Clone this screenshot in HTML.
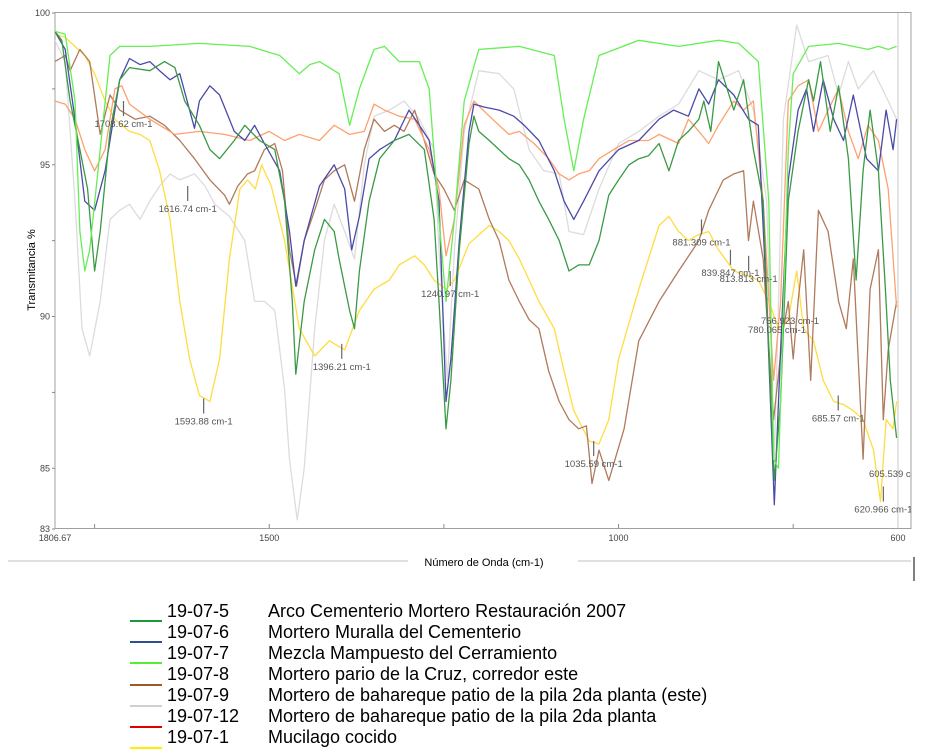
<!DOCTYPE html>
<html><head><meta charset="utf-8"><style>
html,body{margin:0;padding:0;background:#fff;width:930px;height:753px;overflow:hidden}
svg text{font-family:"Liberation Sans",Arial,sans-serif}
.leg{position:absolute;left:0;top:0;font-family:"Liberation Sans",Arial,sans-serif;font-size:18px;color:#000}
</style></head><body>
<svg id="chart" width="930" height="753" style="position:absolute;left:0;top:0">
<defs><clipPath id="pc"><rect x="55" y="13" width="843" height="516"/></clipPath>
<clipPath id="fc"><rect x="0" y="0" width="911" height="600"/></clipPath></defs>
<rect x="55" y="12.5" width="856" height="516" fill="none" stroke="#a0a0a0" stroke-width="1"/>
<line x1="898" y1="13" x2="898" y2="528" stroke="#c8c8c8"/>
<g id="axes"></g>
<g id="series" clip-path="url(#pc)"></g>
<g id="annots" clip-path="url(#fc)"></g>
<line x1="8" y1="561" x2="911" y2="561" stroke="#e0e0e0" stroke-width="2"/>
<rect x="408" y="552" width="170" height="18" fill="#fff"/>
<text x="484" y="566" font-size="11" text-anchor="middle" fill="#000">Número de Onda (cm-1)</text>
<line x1="914" y1="557" x2="914" y2="581" stroke="#000" stroke-width="1"/>
<text transform="translate(35,270) rotate(-90)" font-size="11" text-anchor="middle" fill="#000">Transmitancia %</text>
</svg>
<div class="leg" id="legend"></div>
<script>
const xTicks=[1750,1500,1250,1000,750];
const xLabels=[[1806.67,"1806.67"],[1500,"1500"],[1000,"1000"],[600,"600"]];
const yTicks=[100,97.5,95,92.5,90,87.5,85,83];
const yLabels=[100,95,90,85,83];
const s5=[[1807,99.4],[1797,99.1],[1785,97.1],[1771,95.5],[1760,94.2],[1750,91.5],[1742,92.8],[1728,96.1],[1714,97.8],[1700,98.2],[1671,98.1],[1650,98.4],[1635,98.2],[1621,97.1],[1600,96.3],[1585,95.5],[1571,95.2],[1550,95.8],[1535,96.3],[1514,95.8],[1492,95.5],[1478,93.8],[1467,90.5],[1462,88.1],[1450,90.5],[1435,92.2],[1421,93.2],[1407,92.8],[1400,91.9],[1385,90.2],[1378,89.6],[1371,91.5],[1357,93.8],[1342,95.2],[1321,95.8],[1300,96.0],[1278,95.5],[1264,93.2],[1257,90.5],[1247,86.3],[1240,87.9],[1228,92.2],[1214,95.7],[1207,96.6],[1200,96.1],[1185,95.8],[1171,95.5],[1157,95.2],[1142,95.0],[1128,94.5],[1114,93.8],[1100,93.2],[1085,92.5],[1071,91.5],[1057,91.7],[1042,91.7],[1028,92.5],[1014,94.0],[1000,94.5],[985,95.0],[971,95.2],[957,95.3],[942,95.7],[928,94.8],[914,95.8],[900,96.1],[885,96.5],[878,97.1],[868,96.1],[857,98.4],[835,96.8],[821,97.8],[807,95.5],[793,93.8],[785,88.9],[777,84.6],[768,87.2],[757,93.8],[743,96.1],[728,97.8],[721,97.1],[711,98.4],[697,96.1],[685,97.6],[671,95.2],[660,91.2],[650,94.8],[640,96.8],[628,94.8],[618,90.9],[611,87.9],[602,86.0]];
const s6=[[1807,99.4],[1792,98.8],[1778,96.5],[1764,93.8],[1750,93.5],[1735,94.8],[1721,96.8],[1714,97.8],[1700,98.5],[1685,98.3],[1671,98.4],[1657,98.1],[1642,97.8],[1628,98.0],[1607,96.2],[1600,97.1],[1585,97.6],[1571,97.3],[1550,96.1],[1535,95.8],[1521,96.3],[1507,95.7],[1485,94.8],[1471,92.8],[1462,91.0],[1450,92.5],[1428,94.3],[1407,95.0],[1392,94.2],[1382,92.2],[1371,93.3],[1357,95.2],[1342,95.5],[1321,95.8],[1300,96.8],[1285,96.3],[1271,95.8],[1257,93.8],[1247,87.2],[1240,88.6],[1228,92.5],[1214,96.1],[1207,97.0],[1192,96.9],[1171,96.8],[1150,96.6],[1135,96.3],[1114,95.8],[1092,94.8],[1078,93.8],[1064,93.2],[1050,93.8],[1028,94.8],[1000,95.5],[971,95.8],[942,96.5],[921,96.8],[900,96.6],[885,97.5],[871,97.0],[857,97.8],[835,97.3],[814,96.5],[800,96.3],[788,90.5],[777,83.8],[768,88.9],[757,94.5],[743,96.8],[731,97.5],[721,96.1],[707,97.8],[692,96.5],[678,95.8],[664,97.3],[645,95.2],[628,94.8],[617,96.8],[607,95.5],[602,96.5]];
const s7=[[1807,99.4],[1792,99.3],[1778,97.1],[1771,92.8],[1764,91.5],[1757,92.2],[1742,95.5],[1728,98.6],[1714,98.9],[1671,98.9],[1600,99.0],[1528,98.9],[1485,98.6],[1457,98.0],[1442,98.3],[1428,98.4],[1400,98.0],[1385,96.3],[1371,97.5],[1350,98.8],[1335,98.9],[1314,98.4],[1300,98.4],[1285,98.4],[1271,97.5],[1257,93.2],[1247,90.5],[1235,93.2],[1221,97.1],[1200,98.8],[1142,98.9],[1092,98.6],[1078,96.5],[1064,94.8],[1050,96.5],[1028,98.6],[971,99.1],[914,98.9],[857,99.1],[828,99.0],[800,98.4],[785,93.8],[778,85.3],[771,85.0],[757,95.5],[750,98.0],[728,98.9],[685,99.0],[643,98.8],[628,98.9],[614,98.8],[602,98.9]];
const s8=[[1807,98.4],[1792,98.6],[1785,98.1],[1771,98.8],[1757,98.4],[1742,96.0],[1728,97.3],[1714,96.8],[1692,96.5],[1671,96.6],[1650,96.3],[1628,95.8],[1607,95.2],[1585,94.5],[1564,94.0],[1557,93.7],[1545,94.3],[1531,94.7],[1521,94.8],[1507,95.5],[1492,95.7],[1481,94.8],[1471,92.2],[1461,91.0],[1450,92.5],[1435,93.5],[1421,94.5],[1407,94.8],[1392,95.0],[1378,93.8],[1364,95.5],[1350,96.5],[1335,96.1],[1321,96.3],[1307,96.1],[1292,96.8],[1278,95.8],[1264,94.7],[1250,94.2],[1235,93.5],[1221,94.5],[1200,94.2],[1185,93.2],[1171,92.5],[1157,91.2],[1142,90.5],[1128,89.9],[1114,89.6],[1100,88.2],[1085,87.2],[1071,86.6],[1057,86.3],[1046,86.4],[1038,84.5],[1028,85.6],[1014,84.6],[992,86.3],[971,89.2],[942,90.5],[914,91.5],[885,92.5],[871,93.5],[850,94.5],[835,94.7],[821,94.8],[814,92.5],[807,93.8],[793,91.9],[778,86.6],[764,89.6],[757,90.5],[750,88.6],[743,90.5],[735,92.2],[725,87.9],[714,93.5],[700,92.8],[685,90.5],[674,89.6],[664,91.9],[650,85.3],[640,90.9],[628,92.2],[621,86.6],[614,88.9],[602,90.5]];
const s9=[[1807,99.1],[1792,98.4],[1778,93.8],[1768,89.6],[1757,88.7],[1742,90.5],[1728,93.2],[1714,93.5],[1700,93.7],[1685,93.2],[1671,93.8],[1657,94.3],[1642,94.7],[1628,94.5],[1607,94.7],[1592,94.3],[1578,93.7],[1557,93.3],[1535,92.5],[1521,90.5],[1507,90.5],[1492,90.2],[1478,87.6],[1471,85.3],[1460,83.3],[1450,85.0],[1435,89.6],[1421,92.5],[1407,93.7],[1392,92.8],[1378,91.9],[1364,95.0],[1350,96.6],[1328,96.8],[1307,97.1],[1285,96.5],[1264,95.5],[1257,92.2],[1245,87.9],[1235,92.2],[1221,96.1],[1200,98.1],[1171,98.0],[1150,97.5],[1128,95.5],[1107,94.8],[1085,94.7],[1071,92.8],[1050,92.7],[1028,94.2],[1000,95.7],[971,96.1],[942,96.6],[914,97.0],[885,98.1],[857,97.8],[828,98.1],[807,96.8],[788,93.8],[777,85.3],[764,96.5],[745,99.6],[728,98.4],[700,98.6],[685,97.3],[671,98.4],[657,97.5],[635,98.1],[614,97.1],[602,96.5]];
const s12=[[1807,97.1],[1792,97.0],[1778,96.5],[1764,95.5],[1750,94.8],[1735,95.5],[1721,97.5],[1711,97.6],[1700,97.0],[1671,96.5],[1635,96.0],[1600,96.1],[1564,96.0],[1528,95.8],[1500,96.1],[1478,95.8],[1457,96.0],[1428,95.8],[1407,96.3],[1385,96.0],[1364,96.1],[1350,97.0],[1335,96.8],[1314,96.6],[1292,96.5],[1271,95.5],[1257,94.2],[1247,92.0],[1235,93.2],[1221,96.3],[1207,97.1],[1185,96.6],[1157,96.0],[1142,96.1],[1121,95.7],[1100,95.2],[1085,94.7],[1071,94.5],[1057,94.7],[1042,94.8],[1028,95.2],[1007,95.5],[985,95.8],[957,95.8],[942,96.0],[914,95.7],[900,96.5],[885,96.1],[871,95.7],[857,96.3],[835,97.1],[821,96.8],[807,97.1],[793,93.8],[778,87.9],[768,90.5],[757,97.1],[743,97.6],[728,97.8],[714,96.1],[700,96.8],[685,97.5],[671,96.1],[657,95.2],[643,96.3],[628,95.8],[614,94.2],[602,90.3]];
const s1=[[1807,99.3],[1792,99.2],[1778,98.9],[1764,98.6],[1750,98.0],[1735,97.1],[1721,96.5],[1700,96.1],[1685,96.0],[1671,95.8],[1657,94.8],[1642,93.2],[1628,90.5],[1614,88.6],[1600,87.4],[1585,87.2],[1571,88.6],[1557,91.9],[1542,94.2],[1531,94.5],[1520,94.2],[1511,95.0],[1497,94.3],[1478,92.5],[1457,89.6],[1435,88.7],[1414,89.2],[1392,88.9],[1371,90.2],[1350,90.9],[1328,91.2],[1314,91.7],[1292,92.0],[1278,91.7],[1264,91.2],[1247,90.9],[1235,91.2],[1214,92.4],[1185,93.0],[1171,92.8],[1157,92.5],[1142,91.9],[1114,90.5],[1092,89.6],[1078,88.2],[1064,86.9],[1042,85.9],[1028,85.8],[1014,86.6],[1000,88.6],[971,90.9],[942,93.0],[928,93.3],[914,92.8],[900,92.5],[885,92.7],[871,92.8],[857,92.2],[835,91.5],[821,91.4],[800,91.2],[785,90.5],[771,89.6],[757,89.9],[745,91.5],[735,89.6],[721,89.2],[707,87.9],[692,87.2],[678,87.1],[664,86.9],[650,86.6],[635,85.6],[625,83.9],[617,86.6],[607,86.3],[602,87.2]];
const annWn=[1708.62,1616.74,1593.88,1396.21,1240.97,1035.59,881.309,839.847,813.813,685.57,620.966];
const annT=[97.1,94.3,87.3,89.1,91.5,85.9,93.2,92.2,92.0,87.4,84.4];

const X=w=>55+(1806.67-w)*(843/1206.67);
const Y=t=>13+(100-t)*(516/17);
const NS="http://www.w3.org/2000/svg";
function mk(tag,attrs,parent){const e=document.createElementNS(NS,tag);for(const k in attrs)e.setAttribute(k,attrs[k]);parent.appendChild(e);return e;}
const ax=document.getElementById('axes');
xTicks.forEach(w=>{const l=mk('line',{x1:X(w),x2:X(w),y1:528,y2:524,stroke:'#888'},ax);

});
xLabels.forEach(p=>{const t=mk('text',{x:X(p[0]),y:541,'font-size':9,'text-anchor':'middle',fill:'#444'},ax);t.textContent=p[1];

});
yTicks.forEach(v=>{const l=mk('line',{x1:52,x2:55,y1:Y(v),y2:Y(v),stroke:'#888'},ax);

});
yLabels.forEach(v=>{const t=mk('text',{x:50,y:Y(v)+3,'font-size':9,'text-anchor':'end',fill:'#444'},ax);t.textContent=String(v);

});
const sg=document.getElementById('series');
const seriesList=[[s9,'#dcdcdc','series-19-07-9'],[s1,'#ffdc40','series-19-07-1'],[s8,'#b07a5c','series-19-07-8'],[s12,'#ffa070','series-19-07-12'],[s6,'#4a4aa8','series-19-07-6'],[s5,'#3a9a44','series-19-07-5'],[s7,'#66ee55','series-19-07-7']];
seriesList.forEach(s=>{const d=s[0].map((p,i)=>(i?'L':'M')+X(p[0]).toFixed(1)+','+Y(p[1]).toFixed(1)).join('');
const pth=mk('path',{d:d,fill:'none',stroke:s[1],'stroke-width':1.3,'stroke-linejoin':'round'},sg);

});
const ag=document.getElementById('annots');
annWn.forEach((w,i)=>{const x=X(w),y=Y(annT[i]);
const l=mk('line',{x1:x,x2:x,y1:y,y2:y+15,stroke:'#666','stroke-width':1.2},ag);


const t=mk('text',{x:x,y:y+26,'font-size':9.5,'text-anchor':'middle',fill:'#555'},ag);t.textContent=w+' cm-1';

});
[[756.923,790,324],[780.065,777,333],[605.539,898,477]].forEach(a=>{const t=mk('text',{x:a[1],y:a[2],'font-size':9.5,'text-anchor':'middle',fill:'#555'},ag);t.textContent=a[0]+' cm-1';

});
const legendCodes=["19-07-5","19-07-6","19-07-7","19-07-8","19-07-9","19-07-12","19-07-1"];
const legendDesc=["Arco Cementerio Mortero Restauración 2007","Mortero Muralla del Cementerio","Mezcla Mampuesto del Cerramiento","Mortero pario de la Cruz, corredor este","Mortero de bahareque patio de la pila 2da planta (este)","Mortero de bahareque patio de la pila 2da planta","Mucilago cocido"];
const legendColors=["#1a9a3a","#2f4f8f","#55ee33","#9a5a2a","#d0d0d0","#e00000","#ffee00"];
const lg=document.getElementById('legend');
legendCodes.forEach((c,i)=>{const top=601+i*21;
const sw=document.createElement('div');sw.style.cssText=`position:absolute;left:130px;top:${620+i*21.2}px;width:32px;height:2px;background:${legendColors[i]}`;

lg.appendChild(sw);
const ct=document.createElement('div');ct.style.cssText=`position:absolute;left:167px;top:${top}px;white-space:nowrap`;ct.textContent=c;

lg.appendChild(ct);
const dt=document.createElement('div');dt.style.cssText=`position:absolute;left:268px;top:${top}px;white-space:nowrap`;dt.textContent=legendDesc[i];

lg.appendChild(dt);});
</script>
</body></html>
